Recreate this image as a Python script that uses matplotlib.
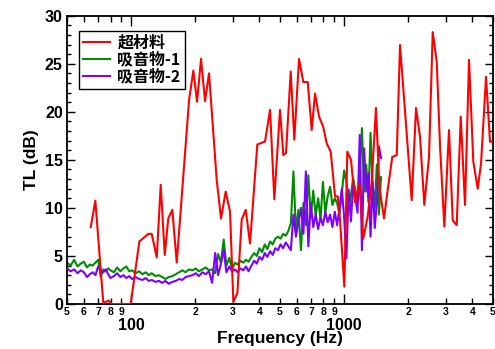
import numpy as np
import matplotlib
matplotlib.use("Agg")
import matplotlib.pyplot as plt
from matplotlib.ticker import FixedLocator, FixedFormatter

plt.rcParams['font.family'] = ['Liberation Sans', 'Noto Sans CJK SC', 'DejaVu Sans']
plt.rcParams['font.weight'] = 'bold'

# metamaterial (red)
f_meta = [64.6, 67.9, 74.0, 78.5, 81.0, 99.5, 109.3, 120.4, 124.9, 131.9,
          137.7, 143.8, 149.4, 156.1, 163.7, 187.0, 195.9, 203.9, 212.9, 222.3,
          232.1, 252.2, 264.2, 278.0, 291.3, 301.9, 315.2, 330.5, 345.1, 361.5,
          391.2, 425.1, 448.9, 470.1, 500, 518.1, 533.5, 561.3, 583.5, 614.1,
          643.4, 674.5, 704.3, 730.0, 762.5, 798.5, 828.4, 865.0, 906.3, 933,
          956.5, 1002, 1035, 1077, 1125, 1178, 1230, 1290, 1347, 1411,
          1463, 1539, 1602, 1683, 1766, 1830, 2076, 2175, 2271, 2379,
          2503, 2606, 2721, 2820, 2954, 3107, 3234, 3377, 3527, 3694,
          3858, 4041, 4238, 4392, 4636, 4840, 5000]
tl_meta = [8.0, 10.75, 0.1, 0.35, 0.0, 0.0, 6.5, 7.3, 7.3, 4.85,
           12.4, 5.1, 8.9, 9.8, 4.3, 21.2, 24.3, 21.05, 25.5, 21.1,
           24.0, 12.9, 8.9, 11.7, 9.6, 0.24, 1.1, 8.8, 9.8, 6.3,
           16.6, 16.9, 20.2, 10.9, 20.2, 15.5, 15.7, 24.2, 17.1, 25.5,
           23.1, 23.1, 18.1, 21.9, 19.5, 18.4, 16.7, 15.85, 11.2, 11.2,
           8.7, 1.8, 15.85, 15.0, 10.6, 12.55, 6.8, 9.1, 12.7, 20.4,
           12.2, 8.9, 11.9, 15.3, 15.5, 26.95, 10.8, 20.4, 17.4, 10.3,
           15.3, 28.3, 25.2, 16.4, 8.05, 18.1, 8.7, 8.2, 19.5, 10.3,
           25.4, 14.8, 12.0, 14.6, 23.65, 16.9, 16.9]

# absorbers share one frequency grid
f_abs = [50, 52, 54, 56, 58, 60, 62, 64, 66, 68,
         70, 72, 74, 76, 78, 80, 83, 86, 89, 92,
         95, 98, 101, 105, 109, 113, 117, 121, 125, 130,
         135, 140, 145, 150, 156, 162, 168, 174, 180, 187,
         194, 201, 208, 216, 224, 232, 240, 248, 256, 264,
         272, 280, 289, 298, 307, 316, 326, 336, 346, 356,
         367, 378, 389, 400, 412, 424, 436, 449, 462, 475,
         489, 503, 517, 532, 547, 562, 578, 594, 610, 627,
         644, 661, 679, 697, 716, 735, 755, 775, 795, 816,
         837, 859, 881, 904, 927, 951, 975, 1000, 1025, 1050,
         1076, 1102, 1129, 1156, 1184, 1212, 1241, 1270, 1300, 1330,
         1361, 1392, 1424, 1456, 1490]
tl_abs1 = [4.3, 4.0, 4.6, 3.9, 4.2, 4.4, 3.8, 4.1, 4.0, 4.3,
           4.6, 2.8, 3.6, 3.4, 3.7, 3.5, 3.3, 3.8, 3.4, 3.7,
           3.9, 3.4, 3.5, 3.2, 3.4, 3.1, 3.3, 3.0, 3.2, 2.9,
           3.0, 2.8, 2.6, 2.8, 2.9, 3.1, 3.3, 3.5, 3.3, 3.6,
           3.5, 3.7, 3.4, 3.6, 3.8, 3.5, 3.6, 3.2, 5.2, 4.3,
           6.7, 4.0, 4.8, 3.6, 4.3, 4.1, 4.5, 4.3, 4.6, 4.4,
           4.9, 5.3, 5.0, 5.8, 5.4, 6.2, 5.7, 6.5, 6.2, 6.8,
           7.0, 6.8, 7.3, 7.1, 7.6, 8.4, 13.8, 7.5, 9.8, 5.6,
           10.5, 8.2, 13.4, 9.0, 11.8, 9.2, 11.0, 8.8, 12.7, 9.5,
           11.2, 12.2, 10.3, 11.0, 10.5, 9.3, 11.5, 13.9, 12.7, 10.0,
           11.3, 13.1, 11.8, 10.6, 14.0, 18.3, 11.7, 14.5, 10.6, 17.8,
           12.5, 10.0, 14.5, 9.3, 13.2]
tl_abs2 = [3.7, 3.4, 3.6, 3.2, 3.5, 3.3, 2.8, 3.1, 3.3, 3.0,
           3.9, 3.5, 3.3, 3.6, 3.1, 2.7, 2.9, 3.2, 2.8, 3.0,
           2.7, 2.9, 2.6, 2.8, 2.6, 2.5, 2.7, 2.4, 2.5, 2.3,
           2.4, 2.2, 2.4, 2.1, 2.3, 2.4, 2.6, 2.5, 2.8, 2.9,
           3.0, 3.2, 2.9, 3.3, 3.1, 3.4, 2.2, 5.3, 3.0, 4.2,
           5.6, 3.3, 3.9, 3.4, 3.6, 3.3, 3.7, 3.5, 3.9, 3.4,
           4.0, 4.5, 4.2, 4.9, 4.6, 5.3, 4.9, 5.5, 5.1, 5.8,
           5.6, 6.2, 5.8, 6.4, 6.0, 5.6, 9.3, 7.0, 8.5, 10.0,
           7.3, 13.8, 6.0, 10.5, 8.0, 9.3, 7.8, 9.0, 8.2, 9.6,
           8.5, 9.3, 8.0, 9.6, 8.2, 10.0, 12.0, 9.0, 4.75, 11.9,
           8.6, 12.4, 11.0, 9.5, 17.6, 5.6, 16.2, 11.7, 13.6, 7.0,
           12.7, 7.9, 10.5, 16.4, 15.2]

labels = ['超材料', '吸音物-1', '吸音物-2']
colors = ['#ff0000', '#008c00', '#7f00ff']

minor_pos = [50, 60, 70, 80, 90, 200, 300, 400, 500, 600, 700, 800, 900,
             2000, 3000, 4000, 5000]
minor_lab = ['5', '6', '7', '8', '9', '2', '3', '4', '5', '6', '7', '8', '9',
             '2', '3', '4', '5']

fig = plt.figure(figsize=(4.95, 3.49), dpi=100)
ax = fig.add_axes([0.1354, 0.129, 0.8606, 0.826])

l1, = ax.plot(f_meta, tl_meta, color=colors[0], lw=1.5, zorder=4)
l2, = ax.plot(f_abs, tl_abs1, color=colors[1], lw=1.5, zorder=2)
l3, = ax.plot(f_abs, tl_abs2, color=colors[2], lw=1.5, zorder=3)

ax.set_xscale('log')
ax.set_xlim(50, 5000)
ax.set_ylim(0, 30)

ax.xaxis.set_major_locator(FixedLocator([100, 1000]))
ax.xaxis.set_major_formatter(FixedFormatter(['100', '1000']))
ax.xaxis.set_minor_locator(FixedLocator(minor_pos))
ax.xaxis.set_minor_formatter(FixedFormatter(minor_lab))
ax.set_yticks([0, 5, 10, 15, 20, 25, 30])
ax.yaxis.set_minor_locator(FixedLocator(np.arange(0, 31, 1)))

ax.tick_params(which='both', direction='in', top=True, right=True, width=1)
ax.tick_params(axis='x', which='major', length=7, pad=10, labelsize=11.5)
ax.tick_params(axis='x', which='minor', length=4, pad=2, labelsize=7.5)
ax.tick_params(axis='y', which='major', length=6, pad=3, labelsize=11.5)
ax.tick_params(axis='y', which='minor', length=3)
for lab in ax.get_xticklabels(which='both') + ax.get_yticklabels():
    lab.set_fontweight('bold')
for sp in ax.spines.values():
    sp.set_linewidth(1.3)

ax.set_xlabel('Frequency (Hz)', fontsize=12.5, fontweight='bold', labelpad=-1)
ax.set_ylabel('TL (dB)', fontsize=12.5, fontweight='bold', labelpad=4)

leg = ax.legend([l1, l2, l3], labels, loc='upper left',
                bbox_to_anchor=(0.028, 0.947), borderaxespad=0,
                fancybox=False, framealpha=1,
                edgecolor='black', handlelength=1.7, handletextpad=0.45,
                borderpad=0.25, labelspacing=0.05,
                prop={'family': ['Noto Sans CJK SC', 'DejaVu Sans'],
                      'weight': 'bold', 'size': 11.5})
leg.get_frame().set_linewidth(1.0)

fig.savefig('out.png', dpi=100)
